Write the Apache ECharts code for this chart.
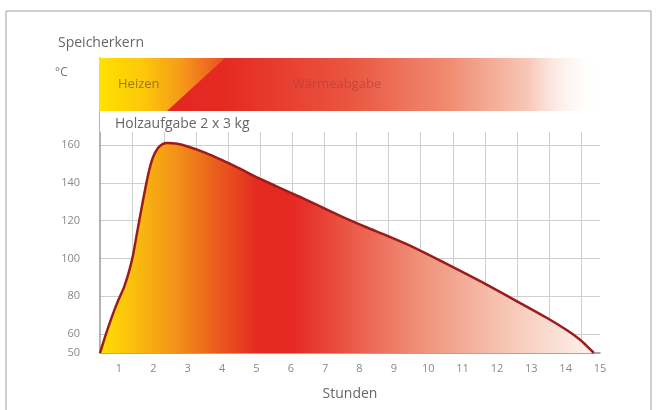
<!DOCTYPE html>
<html>
<head>
<meta charset="utf-8">
<script src="https://cdn.jsdelivr.net/npm/echarts@6/dist/echarts.min.js"></script>
<style>
  html, body { margin: 0; padding: 0; background: #fff; }
  #chart { width: 657px; height: 410px; }
</style>
</head>
<body>
<div id="chart"></div>
<script>
// Stunden (Position auf der Beschriftungsachse) und Temperatur Speicherkern in °C
var hours = [0.447, 0.62, 0.8, 0.97, 1.15, 1.29, 1.41, 1.52, 1.64, 1.76, 1.87, 1.99, 2.14, 2.28, 2.4,
             2.7, 3.0, 3.5, 4.0, 4.52, 5.0, 5.6, 6.27, 6.85, 7.5, 8.2, 8.8, 9.56, 10.55, 11.51, 12.47, 13.46, 14.04, 14.42, 14.71, 14.82];
var temps = [50, 60, 69.5, 77.5, 85, 93, 102, 113, 125, 136.5, 146, 153.5, 158.5, 160.6, 161,
             160.6, 159.2, 156, 152, 147.5, 143, 138, 132.5, 127.5, 122, 116.5, 112, 106, 97, 88, 78.5, 68.5, 62, 57, 52, 50];
var hourLabels = [1, 2, 3, 4, 5, 6, 7, 8, 9, 10, 11, 12, 13, 14, 15];
var tempLabels = [50, 60, 80, 100, 120, 140, 160];
var gridTemps = [60, 80, 100, 120, 140, 160];

var chart = echarts.init(document.getElementById('chart'));

var points = hours.map(function (h, i) { return [h, temps[i]]; });

var option = {
    animation: false,
    textStyle: { fontFamily: 'Open Sans' },
    grid: { left: 100, right: 57, top: 58, bottom: 57, containLabel: false },
    xAxis: [{
        type: 'value',
        min: 0.447,
        max: 15,
        position: 'bottom',
        name: 'Stunden',
        nameLocation: 'middle',
        nameGap: 34,
        nameTextStyle: { color: '#666', fontSize: 14 },
        axisLine: { show: true, lineStyle: { color: '#8a8a8a', width: 1.5 } },
        axisTick: { show: false },
        axisLabel: { customValues: hourLabels, color: '#888', fontSize: 11, margin: 10 },
        splitLine: { show: false }
    }, {
        // nur fuer das senkrechte Raster
        type: 'value',
        min: 0,
        max: 15.59,
        interval: 1,
        position: 'top',
        axisLine: { show: false },
        axisTick: { show: false },
        axisLabel: { show: false },
        splitLine: { show: true, showMinLine: false, showMaxLine: false, lineStyle: { color: '#cfcfcf', width: 1 } }
    }],
    yAxis: {
        type: 'value',
        min: 50,
        max: 206,
        axisLine: { show: true, lineStyle: { color: '#9a9a9a', width: 1.5 } },
        axisTick: { show: false, customValues: gridTemps },
        axisLabel: { customValues: tempLabels, color: '#888', fontSize: 11, margin: 20 },
        splitLine: { show: true, lineStyle: { color: '#cfcfcf', width: 1 } }
    },
    series: [{
        type: 'line',
        xAxisIndex: 0,
        data: points,
        smooth: 0.3,
        symbol: 'none',
        lineStyle: { color: '#9c1b1b', width: 2.5 },
        areaStyle: {
            origin: 'start',
            opacity: 1,
            color: new echarts.graphic.LinearGradient(0, 0, 1, 0, [
                { offset: 0, color: '#ffe000' },
                { offset: 0.06, color: '#fbc20c' },
                { offset: 0.15, color: '#f39417' },
                { offset: 0.24, color: '#ea5a1e' },
                { offset: 0.32, color: '#e42a22' },
                { offset: 0.39, color: '#e52822' },
                { offset: 0.5, color: '#ea5644' },
                { offset: 0.65, color: '#f0917a' },
                { offset: 0.81, color: '#f6c3b1' },
                { offset: 1, color: '#fdf2ec' }
            ])
        }
    }],
    graphic: [
        { type: 'rect', z: 50, shape: { x: 6, y: 11, width: 645, height: 420 },
          style: { fill: 'none', stroke: '#a0a0a0', lineWidth: 1 } },
        { type: 'rect', z: 50, shape: { x: 100, y: 58, width: 505, height: 74 },
          style: { fill: '#fff' } },
        { type: 'rect', z: 51, shape: { x: 99, y: 58, width: 500, height: 53 },
          style: { fill: new echarts.graphic.LinearGradient(0, 0, 1, 0, [
              { offset: 0, color: '#e3201f' },
              { offset: 0.25, color: '#e52a23' },
              { offset: 0.5, color: '#ea5540' },
              { offset: 0.7, color: '#f08c72' },
              { offset: 0.86, color: '#f8c8b8' },
              { offset: 1, color: 'rgba(255,255,255,0)' }
          ]) } },
        { type: 'polygon', z: 52, shape: { points: [[99, 58], [225, 58], [167, 111], [99, 111]] },
          style: { fill: new echarts.graphic.LinearGradient(0, 0, 1, 0, [
              { offset: 0, color: '#ffe200' },
              { offset: 0.35, color: '#fcc80a' },
              { offset: 0.65, color: '#f59a18' },
              { offset: 1, color: '#ec4e22' }
          ]) } },
        { type: 'text', z: 53, style: { text: 'Heizen', x: 118, y: 84, fill: 'rgba(140,105,30,0.85)',
          font: '13px "Open Sans"', textVerticalAlign: 'middle' } },
        { type: 'text', z: 53, style: { text: 'Wärmeabgabe', x: 337, y: 84, fill: 'rgba(175,60,55,0.6)',
          font: '13px "Open Sans"', textAlign: 'center', textVerticalAlign: 'middle' } },
        { type: 'text', z: 53, style: { text: 'Speicherkern', x: 58, y: 43, fill: '#666',
          font: '14px "Open Sans"', textVerticalAlign: 'middle' } },
        { type: 'text', z: 53, style: { text: '°C', x: 55, y: 73, fill: '#777',
          font: '12px "Open Sans"', textVerticalAlign: 'middle' } },
        { type: 'text', z: 53, style: { text: 'Holzaufgabe 2 x 3 kg', x: 115, y: 124, fill: '#666',
          font: '14px "Open Sans"', textVerticalAlign: 'middle' } }
    ]
};

chart.setOption(option);
</script>
</body>
</html>
